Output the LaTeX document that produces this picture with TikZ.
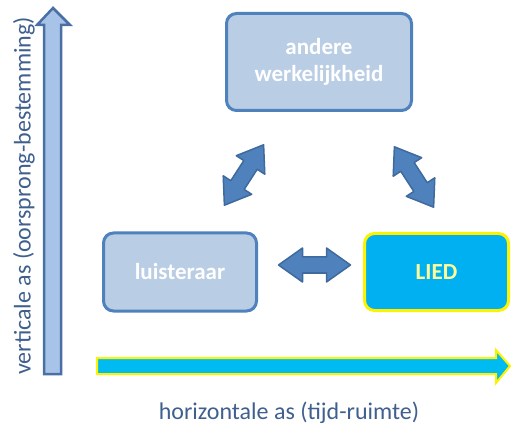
\documentclass[tikz,border=0pt]{standalone}
\usepackage{fontspec}
\setmainfont{Carlito}
\definecolor{boxfill}{HTML}{B9CDE5}
\definecolor{boxline}{HTML}{4F81BD}
\definecolor{liedfill}{HTML}{00B0F0}
\definecolor{axfill}{HTML}{A7C3E7}
\definecolor{axline}{HTML}{4A6FA5}
\definecolor{axtext}{HTML}{3F5F8F}
\definecolor{hfill}{HTML}{00BAF2}
\definecolor{dblfill}{HTML}{4F81BD}
\definecolor{dblline}{HTML}{3E6A9E}
\definecolor{liedtext}{HTML}{FFFF99}
\tikzset{
  box/.style={draw=boxline, fill=boxfill, line width=3pt, rounded corners=10pt,
    font=\bfseries\fontsize{23}{27}\selectfont, text=white, align=center},
  liedbox/.style={box, draw=yellow, fill=liedfill, text=liedtext},
  axlabel/.style={font=\fontsize{24}{28}\selectfont, text=axtext},
  dblarrow/.style={fill=dblfill, draw=dblline, line width=1.5pt, line join=round},
  dbl/.pic={\path[dblarrow] (-36,0) -- (-12,17) -- (-12,8) -- (12,8) -- (12,17) -- (36,0) -- (12,-17) -- (12,-8) -- (-12,-8) -- (-12,-17) -- cycle;}
}
\begin{document}
\begin{tikzpicture}[x=1pt,y=1pt]
\useasboundingbox (0,0) rectangle (512,-425);
% vertical axis arrow
\draw[fill=axfill, draw=axline, line width=2.5pt, line join=miter]
  (44,-374) -- (44,-25) -- (37,-25) -- (53,-8) -- (70,-25) -- (61,-25) -- (61,-374) -- cycle;
\node[axlabel, rotate=90] (vlab) at (24,-196) {verticale as (oorsprong-bestemming)};
% horizontal axis arrow
\draw[fill=hfill, draw=yellow, line width=2pt, line join=miter]
  (97,-358) -- (496,-358) -- (496,-350) -- (510,-366) -- (496,-383) -- (496,-374) -- (97,-374) -- cycle;
\node[axlabel] (hlab) at (289,-413) {horizontale as (tijd-ruimte)};
% boxes
\node[box, minimum width=185pt, minimum height=97pt] (andere) at (319,-62) {andere\\werkelijkheid};
\node[box, minimum width=153pt, minimum height=78pt] (luis) at (180,-272) {luisteraar};
\node[liedbox, minimum width=144pt, minimum height=77pt] (lied) at (436.5,-272) {LIED};
% double arrows
\pic[rotate=57] at (244,-175) {dbl};
\pic[rotate=-57] at (414,-177) {dbl};
\pic at (314.5,-265) {dbl};
\end{tikzpicture}
\end{document}
